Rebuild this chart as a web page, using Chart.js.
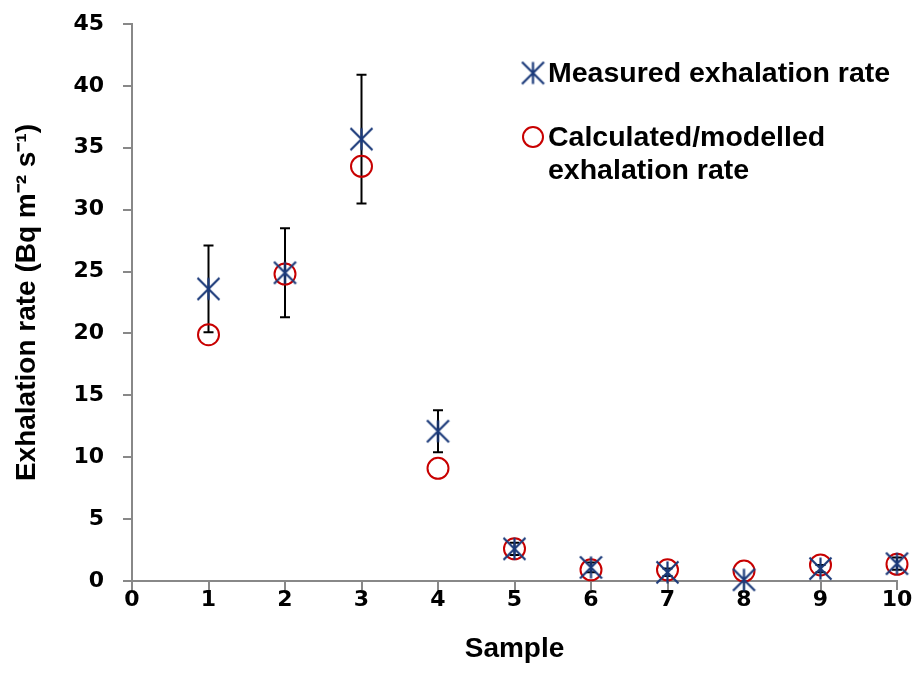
<!DOCTYPE html>
<html>
<head>
<meta charset="utf-8">
<script src="https://cdn.jsdelivr.net/npm/chart.js@4.4.0/dist/chart.umd.min.js"></script>
<style>
  html, body { margin: 0; padding: 0; background: #fff; }
  #wrap { width: 918px; height: 693px; }
</style>
</head>
<body>
<div id="wrap"><canvas id="grafico" width="918" height="693"></canvas></div>
<script>
// Dados
const amostras = [1, 2, 3, 4, 5, 6, 7, 8, 9, 10];
const medido = [23.6, 24.9, 35.7, 12.1, 2.6, 1.1, 0.7, 0.1, 1.0, 1.4];
const erroMedido = [3.5, 3.6, 5.2, 1.7, 0.5, 0.4, 0.3, 0, 0.3, 0.5];
const calculado = [19.9, 24.8, 33.5, 9.1, 2.6, 0.9, 0.9, 0.8, 1.3, 1.35];
const legendaTextos = ['Measured exhalation rate', ['Calculated/modelled', 'exhalation rate']];

const azul = '#1b3a7a';
const vermelho = '#c80000';
const fonte = "'Liberation Sans', Arial, sans-serif";
const fonteTicks = "'DejaVu Sans', 'Liberation Sans', sans-serif";

// marcador: X com linha vertical (estilo Excel)
function marcadorEstrela(tam) {
  const c = document.createElement('canvas');
  c.width = tam; c.height = tam;
  const g = c.getContext('2d');
  const m = tam / 2, r = tam / 2 - 1.5;
  g.strokeStyle = azul;
  g.lineWidth = 2.2;
  g.beginPath();
  g.moveTo(m - r, m - r); g.lineTo(m + r, m + r);
  g.moveTo(m + r, m - r); g.lineTo(m - r, m + r);
  g.moveTo(m, m - r); g.lineTo(m, m + r);
  g.stroke();
  return c;
}
const estrela = marcadorEstrela(25);

// barras de erro
const barrasErro = {
  id: 'barrasErro',
  beforeDatasetsDraw(chart) {
    const { ctx, scales: { x, y } } = chart;
    ctx.save();
    ctx.strokeStyle = '#000';
    ctx.lineWidth = 2;
    amostras.forEach((s, i) => {
      if (!erroMedido[i]) return;
      const px = x.getPixelForValue(s);
      const yTop = y.getPixelForValue(medido[i] + erroMedido[i]);
      const yBot = y.getPixelForValue(medido[i] - erroMedido[i]);
      ctx.beginPath();
      ctx.moveTo(px, yTop); ctx.lineTo(px, yBot);
      ctx.moveTo(px - 5, yTop); ctx.lineTo(px + 5, yTop);
      ctx.moveTo(px - 5, yBot); ctx.lineTo(px + 5, yBot);
      ctx.stroke();
    });
    ctx.restore();
  }
};

// legenda dentro da área
const legenda = {
  id: 'legenda',
  afterDraw(chart) {
    const ctx = chart.ctx;
    ctx.save();
    ctx.drawImage(estrela, 533 - estrela.width / 2, 73 - estrela.height / 2);
    ctx.strokeStyle = vermelho;
    ctx.lineWidth = 2;
    ctx.beginPath();
    ctx.arc(533, 137, 10, 0, Math.PI * 2);
    ctx.stroke();
    ctx.fillStyle = '#000';
    ctx.font = 'bold 28.5px ' + fonte;
    ctx.textBaseline = 'middle';
    ctx.fillText(legendaTextos[0], 548, 74);
    ctx.fillText(legendaTextos[1][0], 548, 138);
    ctx.fillText(legendaTextos[1][1], 548, 171);
    ctx.restore();
  }
};

const ctx = document.getElementById('grafico').getContext('2d');
new Chart(ctx, {
  type: 'scatter',
  data: {
    datasets: [{
      label: 'Measured exhalation rate',
      data: amostras.map((s, i) => ({ x: s, y: medido[i] })),
      pointStyle: estrela,
      pointRadius: 12,
      pointHoverRadius: 12,
      clip: false
    }, {
      label: 'Calculated/modelled exhalation rate',
      data: amostras.map((s, i) => ({ x: s, y: calculado[i] })),
      pointStyle: 'circle',
      pointRadius: 10.5,
      pointHoverRadius: 10.5,
      borderColor: vermelho,
      borderWidth: 2,
      backgroundColor: 'rgba(0,0,0,0)',
      clip: false
    }]
  },
  options: {
    responsive: false,
    animation: false,
    layout: { padding: { left: 0, right: 21, top: 24, bottom: 0 } },
    plugins: {
      legend: { display: false },
      tooltip: { enabled: false }
    },
    scales: {
      x: {
        min: 0, max: 10,
        afterFit: (s) => { s.height = 112; },
        border: { color: '#888', width: 2 },
        grid: { drawOnChartArea: false, drawTicks: true, tickLength: 9, color: '#888', lineWidth: 2 },
        ticks: { stepSize: 1, padding: -3, color: '#000', font: { family: fonteTicks, size: 22, weight: 'bold' } },
        title: { display: true, text: 'Sample', color: '#000', padding: { top: 0, bottom: 27 }, font: { family: fonte, size: 28, weight: 'bold' } }
      },
      y: {
        min: 0, max: 45,
        afterFit: (s) => { s.width = 132; s.paddingTop = 0; s.paddingBottom = 0; },
        border: { color: '#888', width: 2 },
        grid: { drawOnChartArea: false, drawTicks: true, tickLength: 9, color: '#888', lineWidth: 2 },
        ticks: { stepSize: 5, padding: 19, color: '#000', font: { family: fonteTicks, size: 22, weight: 'bold' } },
        title: { display: true, text: 'Exhalation rate (Bq m⁻² s⁻¹)', color: '#000', padding: { top: 10, bottom: 0 }, font: { family: fonte, size: 28, weight: 'bold' } }
      }
    }
  },
  plugins: [barrasErro, legenda]
});
</script>
</body>
</html>
